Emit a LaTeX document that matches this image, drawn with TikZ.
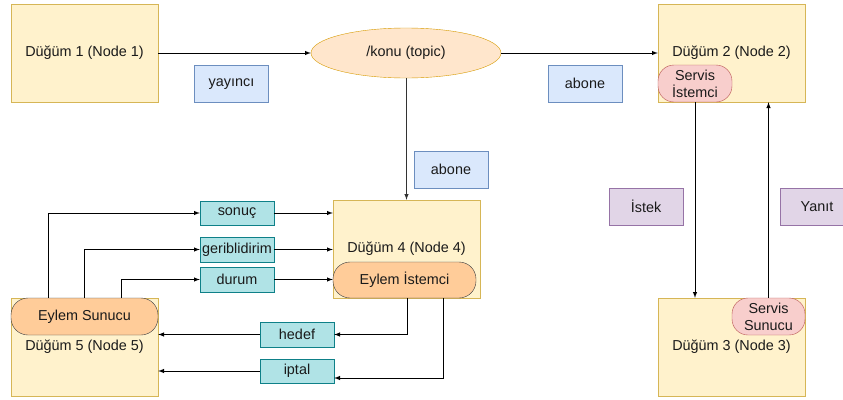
\documentclass[tikz,border=0pt]{standalone}
\usepackage{fontspec}
\setmainfont{Liberation Sans}
\usetikzlibrary{arrows,shapes.geometric}

\definecolor{dugumfill}{HTML}{FFF2CC}
\definecolor{dugumline}{HTML}{D6B656}
\definecolor{konufill}{HTML}{FFE6CC}
\definecolor{konuline}{HTML}{D79B00}
\definecolor{mavifill}{HTML}{DAE8FC}
\definecolor{maviline}{HTML}{6C8EBF}
\definecolor{turkfill}{HTML}{B0E3E6}
\definecolor{turkline}{HTML}{0E8088}
\definecolor{morfill}{HTML}{E1D5E7}
\definecolor{morline}{HTML}{9673A6}
\definecolor{pembefill}{HTML}{F8CECC}
\definecolor{pembeline}{HTML}{B85450}
\definecolor{eylemfill}{HTML}{FFCC99}
\definecolor{eylemline}{HTML}{36393D}
\definecolor{yazi}{HTML}{1A1A1A}

\begin{document}
\begin{tikzpicture}[x=1pt,y=1pt,font=\fontsize{14.4}{17}\selectfont,text=yazi,
  dugum/.style={draw=dugumline,fill=dugumfill,minimum width=147,minimum height=98,inner sep=0pt},
  konu/.style={ellipse,draw=konuline,fill=konufill,minimum width=190,minimum height=50,inner sep=0pt},
  mavi/.style={draw=maviline,fill=mavifill,minimum width=74,minimum height=37,inner sep=0pt},
  mor/.style={draw=morline,fill=morfill,minimum width=74,minimum height=37,inner sep=0pt},
  turk/.style={draw=turkline,fill=turkfill,minimum width=74,minimum height=24.5,inner sep=0pt},
  servis/.style={draw=pembeline,fill=pembefill,rounded corners=16,minimum width=74,minimum height=37,inner sep=0pt,align=center,font=\fontsize{14.4}{17}\selectfont},
  eylem/.style={draw=eylemline,fill=eylemfill,rounded corners=17,minimum height=36,inner sep=0pt},
  ok/.style={-latex,line width=1pt,black}]

\clip (0,0) rectangle (843,-399);
\fill[white] (0,0) rectangle (843,-399);

% ust sira
\node[dugum] (n1) at (84.5,-53) {Düğüm 1 (Node 1)};
\node[konu] (konu) at (406,-53) {/konu (topic)};
\node[dugum] (n2) at (731.5,-53) {Düğüm 2 (Node 2)};
\node[mavi] (yayinci) at (231.5,-84) {yayıncı};
\node[mavi] (abone1) at (585,-83.5) {abone};
\node[servis] (sistemci) at (695,-83.5) {Servis\\İstemci};

% servis
\node[dugum] (n3) at (731.5,-347) {Düğüm 3 (Node 3)};
\node[servis,minimum width=73] (ssunucu) at (768.5,-316.5) {Servis\\Sunucu};
\node[mor] (istek) at (646,-206.5) {İstek};
\node[mor] (yanit) at (817,-206.5) {Yanıt};

% eylem
\node[mavi] (abone2) at (451,-169.5) {abone};
\node[dugum] (n4) at (406.5,-249) {Düğüm 4 (Node 4)};
\node[eylem,minimum width=143] (eistemci) at (404.5,-280) {Eylem İstemci};
\node[dugum] (n5) at (84.5,-347) {Düğüm 5 (Node 5)};
\node[eylem,minimum width=147,minimum height=37] (esunucu) at (84.5,-316.5) {Eylem Sunucu};

\node[turk] (sonuc) at (237,-213) {sonuç};
\node[turk] (geri) at (237,-249.5) {geriblidirim};
\node[turk] (durum) at (237,-279.5) {durum};
\node[turk] (hedef) at (297,-334.5) {hedef};
\node[turk] (iptal) at (297,-371) {iptal};

% oklar
\draw[ok] (n1) -- (konu);
\draw[ok] (konu) -- (n2);
\draw[ok,black!80] ([xshift=0.5]konu.south) -- ([xshift=0.5]konu.south |- n4.north);
\draw[ok] (sistemci.south) -- (sistemci.south |- n3.north);
\draw[ok] (ssunucu.north) -- (ssunucu.north |- n2.south);

\draw[ok] ([xshift=-36.5]esunucu.north) |- (sonuc.west);
\draw[ok] (esunucu.north) |- (geri.west);
\draw[ok] ([xshift=36.5]esunucu.north) |- (durum.west);
\draw[ok] (sonuc.east) -- (sonuc.east -| n4.west);
\draw[ok] (geri.east) -- (geri.east -| n4.west);
\draw[ok] (durum.east) -- (durum.east -| eistemci.west);

\draw[ok] ([xshift=2.5]eistemci.south) |- (hedef.east);
\draw[ok] (hedef.west) -- (hedef.west -| n5.east);
\draw[ok] ([xshift=36.5]n4.south) |- ([yshift=-7]iptal.east);
\draw[ok] (iptal.west) -- (iptal.west -| n5.east);

\end{tikzpicture}
\end{document}
